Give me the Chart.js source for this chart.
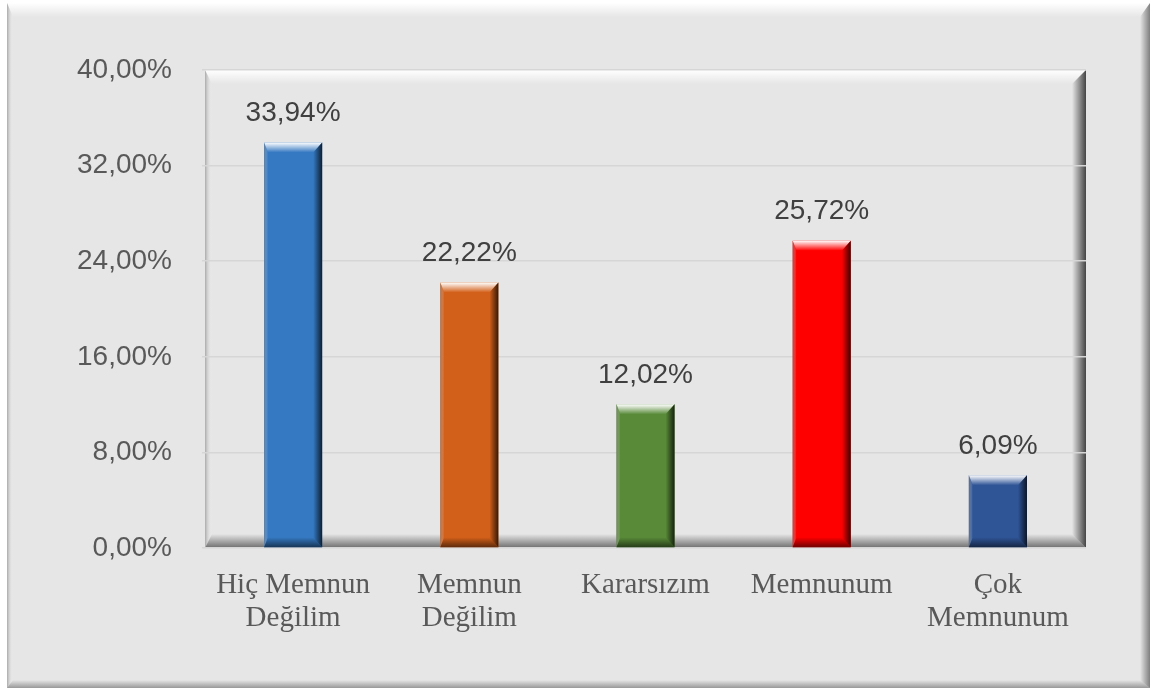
<!DOCTYPE html>
<html>
<head>
<meta charset="utf-8">
<script src="https://cdn.jsdelivr.net/npm/chart.js@4"></script>
<style>
  html, body { margin: 0; padding: 0; background: #ffffff; }
  #wrap { width: 1154px; height: 691px; }
</style>
</head>
<body>
<div id="wrap"><canvas id="myChart" width="1154" height="691"></canvas></div>
<script>
// data
var categories = [['Hiç Memnun', 'Değilim'], ['Memnun', 'Değilim'], 'Kararsızım', 'Memnunum', ['Çok', 'Memnunum']];
var values = [33.94, 22.22, 12.02, 25.72, 6.09];
var barColors = ['#3579c2', '#d3601a', '#588a38', '#ff0000', '#2f5597'];
var yTicks = [0, 8, 16, 24, 32, 40];

var sansFont = '"Liberation Sans", Arial, sans-serif';

function fmt(v) {
  return v.toFixed(2).replace('.', ',') + '%';
}

// draws a bevelled rectangle edge (light top/left, dark right/bottom)
function bevel(ctx, x, y, w, h, t, r, b, l, dark) {
  var g;
  // top band
  g = ctx.createLinearGradient(0, y, 0, y + t);
  g.addColorStop(0, 'rgba(255,255,255,1)');
  g.addColorStop(1, 'rgba(255,255,255,0)');
  ctx.fillStyle = g;
  ctx.beginPath();
  ctx.moveTo(x, y); ctx.lineTo(x + w, y); ctx.lineTo(x + w - r, y + t); ctx.lineTo(x + l, y + t);
  ctx.closePath(); ctx.fill();
  // left band
  g = ctx.createLinearGradient(x, 0, x + l, 0);
  g.addColorStop(0, 'rgba(120,120,120,0.55)');
  g.addColorStop(1, 'rgba(255,255,255,0)');
  ctx.fillStyle = g;
  ctx.beginPath();
  ctx.moveTo(x, y); ctx.lineTo(x + l, y + t); ctx.lineTo(x + l, y + h - b); ctx.lineTo(x, y + h);
  ctx.closePath(); ctx.fill();
  // right band
  g = ctx.createLinearGradient(x + w - r, 0, x + w, 0);
  g.addColorStop(0, 'rgba(0,0,0,0)');
  g.addColorStop(1, 'rgba(0,0,0,' + dark + ')');
  ctx.fillStyle = g;
  ctx.beginPath();
  ctx.moveTo(x + w, y); ctx.lineTo(x + w, y + h); ctx.lineTo(x + w - r, y + h - b); ctx.lineTo(x + w - r, y + t);
  ctx.closePath(); ctx.fill();
  // bottom band
  g = ctx.createLinearGradient(0, y + h - b, 0, y + h);
  g.addColorStop(0, 'rgba(0,0,0,0)');
  g.addColorStop(1, 'rgba(0,0,0,' + (dark * 0.75) + ')');
  ctx.fillStyle = g;
  ctx.beginPath();
  ctx.moveTo(x, y + h); ctx.lineTo(x + w, y + h); ctx.lineTo(x + w - r, y + h - b); ctx.lineTo(x + l, y + h - b);
  ctx.closePath(); ctx.fill();
}

var framePlugin = {
  id: 'frames',
  beforeDraw: function(chart) {
    var ctx = chart.ctx, a = chart.chartArea;
    ctx.save();
    ctx.fillStyle = '#ffffff';
    ctx.fillRect(0, 0, chart.width, chart.height);
    ctx.fillStyle = '#e6e6e6';
    ctx.fillRect(7, 3, 1143, 685);
    bevel(ctx, 7, 3, 1143, 685, 14, 10, 8, 6, 0.45);
    bevel(ctx, a.left, a.top, a.right - a.left, a.bottom - a.top, 14, 14, 14, 7, 0.7);
    ctx.restore();
  },
  afterDatasetsDraw: function(chart) {
    var ctx = chart.ctx;
    var meta = chart.getDatasetMeta(0);
    ctx.save();
    meta.data.forEach(function(bar, i) {
      var p = bar.getProps(['x', 'y', 'base', 'width'], true);
      var x = p.x - p.width / 2, y = p.y, w = p.width, h = p.base - p.y;
      var d = Math.min(10, h / 2);
      bevel(ctx, x, y, w, h, d, 9, d, 4, 0.75);
      // value label
      ctx.fillStyle = '#404040';
      ctx.font = '28px ' + sansFont;
      ctx.textAlign = 'center';
      ctx.textBaseline = 'middle';
      ctx.fillText(fmt(values[i]), p.x, p.y - 29);
    });
    ctx.restore();
  }
};

var ctx = document.getElementById('myChart').getContext('2d');
var chart = new Chart(ctx, {
  type: 'bar',
  data: {
    labels: categories,
    datasets: [{
      data: values,
      backgroundColor: barColors,
      borderWidth: 0,
      barPercentage: 0.33,
      categoryPercentage: 1
    }]
  },
  options: {
    responsive: false,
    animation: false,
    layout: { padding: { left: 0, top: 70, right: 68, bottom: 0 } },
    plugins: {
      legend: { display: false },
      tooltip: { enabled: false }
    },
    scales: {
      x: {
        grid: { display: false },
        border: { display: false },
        ticks: {
          color: '#595959',
          padding: 13,
          font: { family: '"Liberation Serif", "Times New Roman", serif', size: 29, lineHeight: 1.13 }
        },
        afterFit: function(scale) { scale.height = 143; }
      },
      y: {
        min: 0,
        max: 40,
        afterBuildTicks: function(scale) {
          scale.ticks = yTicks.map(function(v) { return { value: v }; });
        },
        grid: { color: '#d6d6d6', lineWidth: 1.5, drawTicks: true, tickLength: 3 },
        border: { display: false },
        ticks: {
          color: '#595959',
          padding: 30,
          font: { family: sansFont, size: 28 },
          callback: function(v) { return fmt(v); }
        },
        afterFit: function(scale) { scale.width = 205; }
      }
    }
  },
  plugins: [framePlugin]
});
</script>
</body>
</html>
